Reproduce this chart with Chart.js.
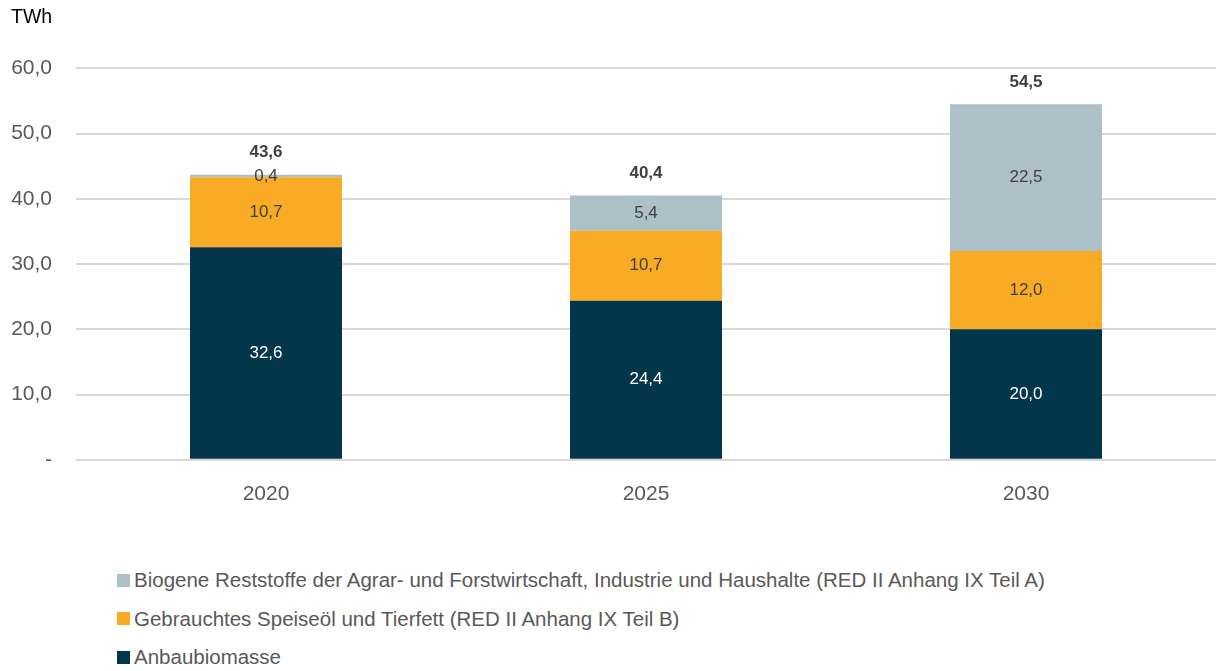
<!DOCTYPE html>
<html>
<head>
<meta charset="utf-8">
<script src="https://cdn.jsdelivr.net/npm/chart.js@4"></script>
<style>
  body { margin: 0; background: #fff; font-family: "Liberation Sans", Arial, sans-serif; }
  #wrap { position: relative; width: 1216px; height: 671px; overflow: hidden; }
  #chartBox { position: absolute; left: 0; top: 0; width: 1216px; height: 540px; }
  #legend { position: absolute; left: 117px; top: 561px; margin: 0; padding: 0; list-style: none; }
  #legend li { height: 38.5px; line-height: 38.5px; font-size: 20.5px; color: #595959; display: flex; align-items: center; white-space: nowrap; }
  #legend span { display: inline-block; width: 13px; height: 13px; margin-right: 4px; flex: none; }
</style>
</head>
<body>
<div id="wrap">
  <div id="chartBox"><canvas id="chart"></canvas></div>
  <ul id="legend"></ul>
</div>
<script>
let years = ['2020', '2025', '2030'];
let anbau = [32.6, 24.4, 20.0];
let gebraucht = [10.7, 10.7, 12.0];
let biogen = [0.4, 5.4, 22.5];
let totals = [43.6, 40.4, 54.5];

let names = [
  'Anbaubiomasse',
  'Gebrauchtes Speiseöl und Tierfett (RED II Anhang IX Teil B)',
  'Biogene Reststoffe der Agrar- und Forstwirtschaft, Industrie und Haushalte (RED II Anhang IX Teil A)'
];
let colors = ['#03364a', '#f9ab25', '#adbfc7'];
let labelColors = ['#ffffff', '#404040', '#404040'];
let fontFamily = '"Liberation Sans", Arial, sans-serif';

function fmt(v){
  return v.toFixed(1).replace('.', ',');
}

// labels inside the segments and the totals on top
let valueLabels = {
  id: 'valueLabels',
  afterDatasetsDraw(chart){
    let ctx = chart.ctx;
    ctx.save();
    ctx.textAlign = 'center';
    ctx.textBaseline = 'middle';
    ctx.font = '17px ' + fontFamily;
    chart.data.datasets.forEach((ds, i) => {
      let meta = chart.getDatasetMeta(i);
      meta.data.forEach((bar, j) => {
        ctx.fillStyle = labelColors[i];
        ctx.fillText(fmt(ds.data[j]), bar.x, (bar.y + bar.base) / 2);
      });
    });
    let top = chart.getDatasetMeta(chart.data.datasets.length - 1);
    ctx.font = 'bold 17px ' + fontFamily;
    ctx.fillStyle = '#404040';
    top.data.forEach((bar, j) => {
      ctx.fillText(fmt(totals[j]), bar.x, bar.y - 22);
    });
    ctx.restore();
  }
};

let ctx = document.getElementById('chart').getContext('2d');
let chart = new Chart(ctx, {
  type: 'bar',
  data: {
    labels: years,
    datasets: [anbau, gebraucht, biogen].map((d, i) => ({
      label: names[i],
      data: d,
      backgroundColor: colors[i],
      borderWidth: 0,
      barPercentage: 0.4,
      categoryPercentage: 1
    }))
  },
  options: {
    responsive: true,
    maintainAspectRatio: false,
    animation: false,
    layout: { padding: { left: 11, right: 0, top: 0, bottom: 19 } },
    plugins: {
      legend: { display: false },
      tooltip: { enabled: false },
      title: {
        display: true,
        text: 'TWh',
        align: 'start',
        color: '#000000',
        font: { size: 19.5, family: fontFamily, weight: 'normal' },
        padding: { top: 6, bottom: 39 }
      }
    },
    scales: {
      x: {
        stacked: true,
        grid: { display: false },
        border: { display: false },
        ticks: { color: '#595959', padding: 14, font: { size: 21, family: fontFamily } }
      },
      y: {
        stacked: true,
        min: 0,
        max: 60,
        afterFit(scale){ scale.width = 65; },
        ticks: {
          stepSize: 10,
          color: '#595959',
          padding: 24,
          font: { size: 21, family: fontFamily },
          callback: v => v === 0 ? '-' : fmt(v)
        },
        grid: { color: '#d9d9d9', lineWidth: 2, drawTicks: false },
        border: { display: false }
      }
    }
  },
  plugins: [valueLabels]
});

// legend, top series first
let legendEl = document.getElementById('legend');
for (let i = names.length - 1; i >= 0; i--) {
  let li = document.createElement('li');
  let sw = document.createElement('span');
  sw.style.background = colors[i];
  li.appendChild(sw);
  li.appendChild(document.createTextNode(names[i]));
  legendEl.appendChild(li);
}
</script>
</body>
</html>
